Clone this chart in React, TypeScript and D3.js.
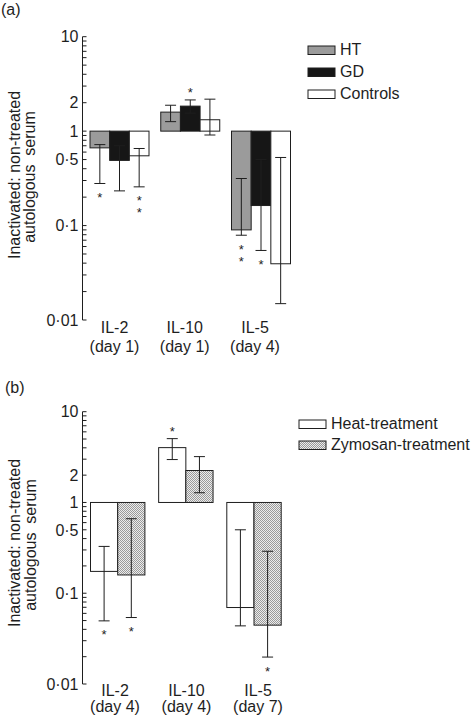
import React from "react";
import * as d3 from "d3";

// ---------- Panel (a) data ----------
const categoriesA = ["IL-2", "IL-10", "IL-5"];
const daysA = ["(day 1)", "(day 1)", "(day 4)"];
const seriesA = ["HT", "GD", "Controls"];
const htMean = [0.665, 1.59, 0.09];
const htLo = [0.279, 1.26, 0.079];
const htHi = [0.72, 1.88, 0.315];
const htStars = [1, 0, 2];
const gdMean = [0.49, 1.84, 0.163];
const gdLo = [0.233, 1.55, 0.0545];
const gdHi = [0.7, 2.14, 0.5];
const gdStars = [0, 1, 1];
const ctrlMean = [0.548, 1.32, 0.0394];
const ctrlLo = [0.257, 0.91, 0.0149];
const ctrlHi = [0.655, 2.18, 0.526];
const ctrlStars = [2, 0, 0];

// ---------- Panel (b) data ----------
const categoriesB = ["IL-2", "IL-10", "IL-5"];
const daysB = ["(day 4)", "(day 4)", "(day 7)"];
const seriesB = ["Heat-treatment", "Zymosan-treatment"];
const heatMean = [0.174, 4.02, 0.0696];
const heatLo = [0.0496, 2.97, 0.0437];
const heatHi = [0.328, 5.05, 0.5];
const heatStars = [1, 1, 0];
const zymMean = [0.159, 2.25, 0.0445];
const zymLo = [0.054, 1.28, 0.0198];
const zymHi = [0.662, 3.2, 0.29];
const zymStars = [1, 0, 1];

// ---------- Axis ----------
const tickValues = [10, 2, 1, 0.5, 0.1, 0.01];
const tickLabels = ["10", "2", "1", "0·5", "0·1", "0·01"];
const yLabel1 = "Inactivated: non-treated";
const yLabel2 = "autologous  serum";

const FONT = "'Liberation Sans', Arial, Helvetica, sans-serif";
const INK = "#1e1e1e";

type Series = { name: string; mean: number[]; lo: number[]; hi: number[]; stars: number[]; fill: string };

function minorTicks(): number[] {
  const out: number[] = [];
  for (let e = -2; e <= 0; e++) {
    for (let m = 1; m <= 9; m++) out.push(m * Math.pow(10, e));
  }
  out.push(10);
  return out;
}

function Panel(props: {
  label: string;
  labelPos: [number, number];
  yRange: [number, number];
  centerRange: [number, number];
  labelRange: [number, number];
  halfWidth: number;
  categories: string[];
  days: string[];
  series: Series[];
  legendX: number;
  legendY: number;
  legendStep: number;
  titleX: [number, number];
  titleY: number;
  labelY: number;
  labelGap: number;
}) {
  const p = props;
  const axisX = 82.5;
  const y = d3.scaleLog().domain([0.01, 10]).range(p.yRange);
  const xc = d3.scalePoint<string>().domain(p.categories).range(p.centerRange);
  const xl = d3.scalePoint<string>().domain(p.categories).range(p.labelRange);
  const xs = d3
    .scaleBand<string>()
    .domain(p.series.map((s) => s.name))
    .range([-p.halfWidth, p.halfWidth])
    .paddingInner(0);
  const bw = xs.bandwidth();
  const capW = 11;
  const starFs = 13;

  return (
    <g>
      <text x={p.labelPos[0]} y={p.labelPos[1]} fontSize={16} fontFamily={FONT} fill={INK}>
        {p.label}
      </text>
      {/* y title */}
      <text
        transform={`translate(${p.titleX[0]},${p.titleY}) rotate(-90)`}
        textAnchor="middle"
        fontSize={16}
        fontFamily={FONT}
        fill={INK}
      >
        {yLabel1}
      </text>
      <text
        transform={`translate(${p.titleX[1]},${p.titleY + 2}) rotate(-90)`}
        textAnchor="middle"
        fontSize={16}
        fontFamily={FONT}
        fill={INK}
        style={{ whiteSpace: "pre" }}
      >
        {yLabel2}
      </text>
      {/* axis */}
      <line x1={axisX} x2={axisX} y1={y(10)} y2={y(0.01)} stroke={INK} strokeWidth={1} />
      {minorTicks().map((t, i) => (
        <line key={i} x1={axisX} x2={axisX + 4} y1={y(t)} y2={y(t)} stroke={INK} strokeWidth={1} />
      ))}
      {tickValues.map((t, i) => (
        <text
          key={i}
          x={axisX - 4}
          y={y(t)}
          dy="0.36em"
          textAnchor="end"
          fontSize={16}
          fontFamily={FONT}
          fill={INK}
        >
          {tickLabels[i]}
        </text>
      ))}
      {/* bars */}
      {p.series.map((s) =>
        p.categories.map((c, i) => {
          const x0 = (xc(c) as number) + (xs(s.name) as number);
          const ya = y(1);
          const yb = y(s.mean[i]);
          return (
            <rect
              key={s.name + c}
              x={x0}
              y={Math.min(ya, yb)}
              width={bw}
              height={Math.abs(yb - ya)}
              fill={s.fill}
              stroke={INK}
              strokeWidth={1}
            />
          );
        })
      )}
      {/* error bars and stars */}
      {p.series.map((s) =>
        p.categories.map((c, i) => {
          const cx = (xc(c) as number) + (xs(s.name) as number) + bw / 2;
          const yLo = y(s.lo[i]);
          const yHi = y(s.hi[i]);
          const down = s.mean[i] < 1;
          const stars = [];
          for (let k = 0; k < s.stars[i]; k++) {
            const cy = down ? yLo + 11 + k * 12 : yHi - 10 - k * 12;
            stars.push(
              <text
                key={k}
                x={cx}
                y={cy + 0.58 * starFs}
                textAnchor="middle"
                fontSize={starFs}
                fontFamily={FONT}
                fill={INK}
              >
                *
              </text>
            );
          }
          return (
            <g key={"e" + s.name + c}>
              <line x1={cx} x2={cx} y1={yLo} y2={yHi} stroke={INK} strokeWidth={1} />
              <line x1={cx - capW / 2} x2={cx + capW / 2} y1={yLo} y2={yLo} stroke={INK} strokeWidth={1} />
              <line x1={cx - capW / 2} x2={cx + capW / 2} y1={yHi} y2={yHi} stroke={INK} strokeWidth={1} />
              {stars}
            </g>
          );
        })
      )}
      {/* category labels */}
      {p.categories.map((c, i) => (
        <g key={"l" + c}>
          <text x={xl(c)} y={p.labelY} textAnchor="middle" fontSize={16} fontFamily={FONT} fill={INK}>
            {c}
          </text>
          <text x={xl(c)} y={p.labelY + p.labelGap} textAnchor="middle" fontSize={16} fontFamily={FONT} fill={INK}>
            {p.days[i]}
          </text>
        </g>
      ))}
      {/* legend */}
      {p.series.map((s, i) => (
        <g key={"lg" + s.name} transform={`translate(${p.legendX},${p.legendY + i * p.legendStep})`}>
          <rect x={0} y={-9} width={27} height={8.5} fill={s.fill} stroke={INK} strokeWidth={1} />
          <text x={32} y={0} fontSize={16} fontFamily={FONT} fill={INK}>
            {s.name}
          </text>
        </g>
      ))}
    </g>
  );
}

export default function App() {
  const seriesDataA: Series[] = [
    { name: seriesA[0], mean: htMean, lo: htLo, hi: htHi, stars: htStars, fill: "#9b9b9b" },
    { name: seriesA[1], mean: gdMean, lo: gdLo, hi: gdHi, stars: gdStars, fill: "#161616" },
    { name: seriesA[2], mean: ctrlMean, lo: ctrlLo, hi: ctrlHi, stars: ctrlStars, fill: "#ffffff" },
  ];
  const seriesDataB: Series[] = [
    { name: seriesB[0], mean: heatMean, lo: heatLo, hi: heatHi, stars: heatStars, fill: "#ffffff" },
    { name: seriesB[1], mean: zymMean, lo: zymLo, hi: zymHi, stars: zymStars, fill: "url(#stipple)" },
  ];
  return (
    <svg
      width={474}
      height={717}
      style={{ position: "absolute", left: 0, top: 0, background: "#fff" }}
    >
      <defs>
        <pattern id="stipple" width={2} height={2} patternUnits="userSpaceOnUse">
          <rect width={2} height={2} fill="#ececec" />
          <rect x={0} y={0} width={1} height={1} fill="#9a9a9a" />
          <rect x={1} y={1} width={1} height={1} fill="#9a9a9a" />
        </pattern>
      </defs>
      <rect width={474} height={717} fill="#fff" />
      <Panel
        label="(a)"
        labelPos={[1, 15]}
        yRange={[320, 36.7]}
        centerRange={[119.5, 261]}
        labelRange={[114.5, 255]}
        halfWidth={29.5}
        categories={categoriesA}
        days={daysA}
        series={seriesDataA}
        legendX={308}
        legendY={55}
        legendStep={22}
        titleX={[19.5, 34.5]}
        titleY={175}
        labelY={333}
        labelGap={18.5}
      />
      <Panel
        label="(b)"
        labelPos={[5, 393]}
        yRange={[684, 411.7]}
        centerRange={[117.7, 254]}
        labelRange={[115, 258]}
        halfWidth={27.2}
        categories={categoriesB}
        days={daysB}
        series={seriesDataB}
        legendX={299}
        legendY={429}
        legendStep={21}
        titleX={[20, 35.5]}
        titleY={543}
        labelY={695.5}
        labelGap={16}
      />
    </svg>
  );
}
